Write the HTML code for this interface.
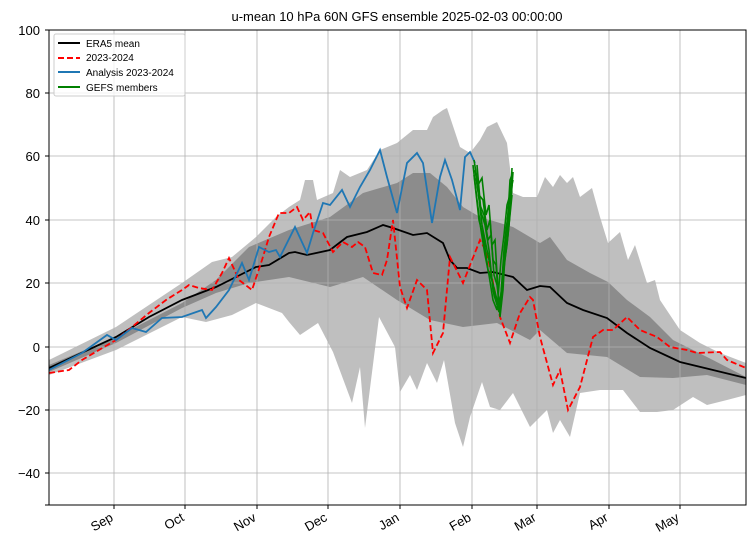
<!DOCTYPE html>
<html><head><style>body{margin:0;background:#fff}svg{display:block;font-family:"Liberation Sans","DejaVu Sans",sans-serif}</style></head><body>
<svg width="756" height="551" viewBox="0 0 756 551">
<rect width="756" height="551" fill="#fff"/>
<text x="397" y="21" font-size="13" text-anchor="middle">u-mean 10 hPa 60N GFS ensemble 2025-02-03 00:00:00</text>
<defs><clipPath id="c"><rect x="49" y="30" width="697" height="475"/></clipPath></defs>
<g clip-path="url(#c)">
<polygon fill="#bfbfbf" points="49,360 116,327 182,283 212,262 232,257 256,237 276,217 289,207 300,200 305,180 313,180 317,200 333,193 340,170 350,177 367,170 380,150 397,143 413,130 427,130 433,117 443,110 447,108 450,117 460,147 470,153 480,140 487,127 497,122 507,143 513,193 523,197 537,197 545,177 553,187 560,175 567,183 573,177 580,197 592,188 600,217 608,243 620,232 628,260 635,245 647,283 655,280 660,300 680,330 700,343 720,353 746,363 746,395 727,400 707,405 693,397 673,410 657,412 640,412 623,390 600,390 580,393 570,437 560,420 553,433 547,410 530,427 513,393 500,410 490,407 482,382 470,417 463,447 455,423 444,360 437,383 427,363 417,390 410,375 400,392 395,347 379,317 365,428 360,367 352,403 333,352 318,323 300,335 289,322 282,313 256,303 232,315 206,322 182,317 116,350 49,375"/>
<polygon fill="#8c8c8c" points="49,365 116,337 182,303 216,280 249,247 289,230 330,217 363,193 397,183 413,173 430,173 447,187 463,207 480,217 513,227 540,243 550,237 567,260 590,273 608,282 627,300 650,317 673,340 707,357 746,377 746,385 707,375 673,378 640,377 607,357 567,353 540,330 530,340 497,323 463,327 430,320 397,300 363,277 330,287 289,277 249,283 216,293 182,308 116,343 49,372"/>
<g stroke="#b0b0b0" stroke-width="0.8">
<line x1="114" y1="30" x2="114" y2="505"/><line x1="185" y1="30" x2="185" y2="505"/><line x1="257" y1="30" x2="257" y2="505"/><line x1="328" y1="30" x2="328" y2="505"/><line x1="400" y1="30" x2="400" y2="505"/><line x1="472" y1="30" x2="472" y2="505"/><line x1="537" y1="30" x2="537" y2="505"/><line x1="609" y1="30" x2="609" y2="505"/><line x1="680" y1="30" x2="680" y2="505"/>
<line x1="49" y1="93" x2="746" y2="93"/><line x1="49" y1="156" x2="746" y2="156"/><line x1="49" y1="220" x2="746" y2="220"/><line x1="49" y1="283" x2="746" y2="283"/><line x1="49" y1="347" x2="746" y2="347"/><line x1="49" y1="410" x2="746" y2="410"/><line x1="49" y1="473" x2="746" y2="473"/>
</g>
<polyline fill="none" stroke="#000" stroke-width="1.8" points="49,368 116,337 149,317 182,300 216,287 236,277 256,267 269,265 289,253 295,252 307,255 330,250 347,237 367,232 383,225 393,228 413,235 427,233 443,243 450,260 457,268 467,268 480,273 493,272 513,277 527,290 540,286 550,287 567,303 583,310 607,318 627,333 650,348 680,362 713,370 746,378"/>
<polyline fill="none" stroke="#f00" stroke-width="1.8" stroke-dasharray="6,3" points="49,373 69,370 82,360 99,350 116,340 132,327 149,313 166,300 182,290 189,285 199,288 212,290 222,273 229,258 239,280 252,290 262,260 269,237 279,213 289,213 297,207 303,220 310,212 313,230 323,233 333,252 343,242 352,247 358,242 365,247 373,273 382,275 387,260 393,220 400,287 407,308 417,280 427,290 433,353 443,333 450,257 463,283 480,240 487,253 500,317 510,343 520,313 530,297 533,300 540,337 553,385 560,370 568,410 580,387 593,337 603,330 613,330 627,317 640,330 657,337 670,347 687,350 697,353 720,352 727,360 746,368"/>
<polyline fill="none" stroke="#1f77b4" stroke-width="1.8" points="49,370 82,353 107,335 116,340 132,328 146,332 162,318 182,317 202,310 206,318 216,307 229,290 242,263 249,280 259,247 269,252 276,250 280,257 295,227 307,253 313,233 323,203 330,205 342,190 350,207 360,187 370,170 380,150 387,177 397,213 407,163 417,153 423,163 432,223 440,177 445,160 452,180 460,210 465,157 470,152 475,163"/>
<g fill="none" stroke="#008000" stroke-width="1.6">
<polyline points="474,160 478,185 482,178 486,215 489,205 492,245 495,240 498,290 500,317 503,290 505,255 507,240 509,205 511,190 512,168"/>
<polyline points="475,170 479,195 483,200 487,230 490,220 493,260 496,265 499,305 501,300 503,270 506,230 508,215 510,180 512,175"/>
<polyline points="476,178 480,205 484,215 488,240 491,235 494,275 497,285 500,310 502,280 504,250 507,225 509,200 511,185"/>
<polyline points="477,165 481,212 485,225 489,250 493,290 496,300 499,312 502,285 505,260 508,235 511,200 513,172"/>
<polyline points="478,190 482,225 486,245 490,265 494,295 498,308 501,295 504,265 507,245 510,215 512,195"/>
<polyline points="474,175 479,220 484,240 488,270 492,280 497,300 500,312 503,275 506,245 509,225 512,185"/>
<polyline points="473,165 477,200 481,230 485,255 489,275 493,300 497,310 501,260 504,235 507,205 510,195 513,180"/>
</g>
</g>
<rect x="49" y="30" width="697" height="475" fill="none" stroke="#000" stroke-width="1"/>
<g font-size="13" text-anchor="end">
<text x="40" y="35">100</text><text x="40" y="98">80</text><text x="40" y="161">60</text><text x="40" y="225">40</text><text x="40" y="288">20</text><text x="40" y="352">0</text><text x="40" y="415">−20</text><text x="40" y="478">−40</text>
</g>
<g stroke="#000"><line x1="45" y1="30" x2="49" y2="30"/><line x1="45" y1="93" x2="49" y2="93"/><line x1="45" y1="156" x2="49" y2="156"/><line x1="45" y1="220" x2="49" y2="220"/><line x1="45" y1="283" x2="49" y2="283"/><line x1="45" y1="347" x2="49" y2="347"/><line x1="45" y1="410" x2="49" y2="410"/><line x1="45" y1="473" x2="49" y2="473"/><line x1="45" y1="505" x2="49" y2="505"/></g>
<g font-size="13" text-anchor="end">
<text transform="translate(114,520) rotate(-30)">Sep</text><text transform="translate(185,520) rotate(-30)">Oct</text><text transform="translate(257,520) rotate(-30)">Nov</text><text transform="translate(328,520) rotate(-30)">Dec</text><text transform="translate(400,520) rotate(-30)">Jan</text><text transform="translate(472,520) rotate(-30)">Feb</text><text transform="translate(537,520) rotate(-30)">Mar</text><text transform="translate(609,520) rotate(-30)">Apr</text><text transform="translate(680,520) rotate(-30)">May</text>
</g>
<g stroke="#000"><line x1="114" y1="505" x2="114" y2="509"/><line x1="185" y1="505" x2="185" y2="509"/><line x1="257" y1="505" x2="257" y2="509"/><line x1="328" y1="505" x2="328" y2="509"/><line x1="400" y1="505" x2="400" y2="509"/><line x1="472" y1="505" x2="472" y2="509"/><line x1="537" y1="505" x2="537" y2="509"/><line x1="609" y1="505" x2="609" y2="509"/><line x1="680" y1="505" x2="680" y2="509"/></g>
<rect x="54" y="34" width="131" height="62" rx="2" fill="#fff" fill-opacity="0.8" stroke="#ccc"/>
<line x1="58" y1="43" x2="80" y2="43" stroke="#000" stroke-width="2"/>
<line x1="58" y1="58" x2="80" y2="58" stroke="#f00" stroke-width="2" stroke-dasharray="6,3"/>
<line x1="58" y1="72" x2="80" y2="72" stroke="#1f77b4" stroke-width="2"/>
<line x1="58" y1="87" x2="80" y2="87" stroke="#008000" stroke-width="2"/>
<g font-size="10"><text x="86" y="47">ERA5 mean</text><text x="86" y="61">2023-2024</text><text x="86" y="76">Analysis 2023-2024</text><text x="86" y="91">GEFS members</text></g>
</svg>
</body></html>
